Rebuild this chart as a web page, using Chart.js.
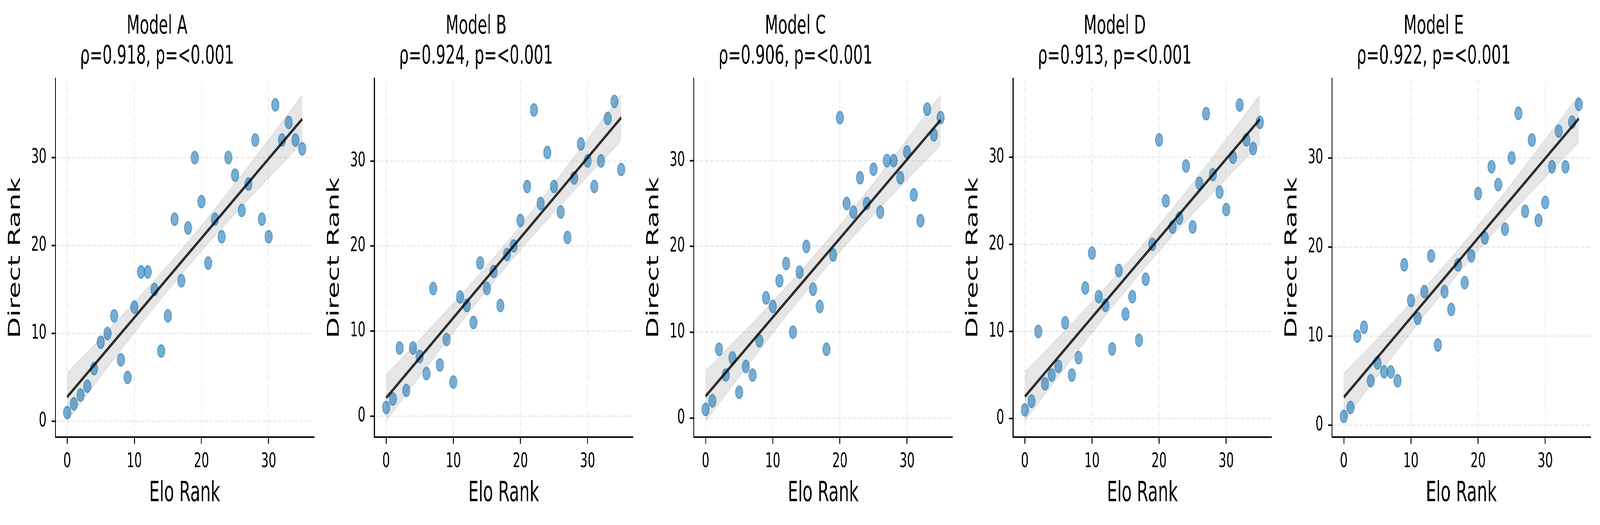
<!DOCTYPE html>
<html>
<head>
<meta charset="utf-8">
<script src="https://cdn.jsdelivr.net/npm/chart.js@4.4.0/dist/chart.umd.min.js"></script>
<style>
  html, body { margin: 0; background: #fff; overflow: hidden; }
  #stage { position: absolute; left: 0; top: 0; width: 6957px; height: 1344px; transform-origin: 0 0; }
  #stage canvas { position: absolute; top: 0; }
</style>
</head>
<body>
<div id="stage"></div>
<script>
// Elo rank on x, direct rank on y, one point per item
const eloRank = [0, 1, 2, 3, 4, 5, 6, 7, 8, 9, 10, 11, 12, 13, 14, 15, 16, 17,
                 18, 19, 20, 21, 22, 23, 24, 25, 26, 27, 28, 29, 30, 31, 32, 33, 34, 35];

const directA = [1, 2, 3, 4, 6, 9, 10, 12, 7, 5, 13, 17, 17, 15, 8, 12, 23, 16,
                 22, 30, 25, 18, 23, 21, 30, 28, 24, 27, 32, 23, 21, 36, 32, 34, 32, 31];
const directB = [1, 2, 8, 3, 8, 7, 5, 15, 6, 9, 4, 14, 13, 11, 18, 15, 17, 13,
                 19, 20, 23, 27, 36, 25, 31, 27, 24, 21, 28, 32, 30, 27, 30, 35, 37, 29];
const directC = [1, 2, 8, 5, 7, 3, 6, 5, 9, 14, 13, 16, 18, 10, 17, 20, 15, 13,
                 8, 19, 35, 25, 24, 28, 25, 29, 24, 30, 30, 28, 31, 26, 23, 36, 33, 35];
const directD = [1, 2, 10, 4, 5, 6, 11, 5, 7, 15, 19, 14, 13, 8, 17, 12, 14, 9,
                 16, 20, 32, 25, 22, 23, 29, 22, 27, 35, 28, 26, 24, 30, 36, 32, 31, 34];
const directE = [1, 2, 10, 11, 5, 7, 6, 6, 5, 18, 14, 12, 15, 19, 9, 15, 13, 18,
                 16, 19, 26, 21, 29, 27, 22, 30, 35, 24, 32, 23, 25, 29, 33, 29, 34, 36];

const modelNames = ['Model A', 'Model B', 'Model C', 'Model D', 'Model E'];
const rhoValues = ['0.918', '0.924', '0.906', '0.913', '0.922'];
const pValues = ['<0.001', '<0.001', '<0.001', '<0.001', '<0.001'];
const tickValues = [0, 10, 20, 30];

const allDirect = [directA, directB, directC, directD, directE];

// axis limits as matplotlib autoscaled them
const xRange = [-1.75, 36.75];
const yRanges = [[-1.79, 39.0], [-2.48, 39.7], [-2.23, 39.57], [-2.12, 39.04], [-1.32, 38.9]];

// layout, in pixels of the 6957 x 1344 figure
const figW = 6957;
const spineLefts = [241, 1628, 3017, 4405, 5792];
const plotW = 1124;
const yAxisW = 240;
const xAxisH = 225;
const rightPad = 30;
const FONT = 'DejaVu Sans';

// the window may be narrower than the figure: squeeze the stage to fit
const stage = document.getElementById('stage');
stage.style.transform = 'scale(' + (window.innerWidth / figW) + ', ' + (window.innerHeight / 1344) + ')';

// least squares fit with 95% band, evaluated at the data x values
function fitLine(xs, ys) {
    const n = xs.length;
    let mx = 0, my = 0;
    for (let i = 0; i < n; i++) { mx += xs[i]; my += ys[i]; }
    mx /= n; my /= n;
    let sxx = 0, sxy = 0;
    for (let i = 0; i < n; i++) {
        sxx += (xs[i] - mx) * (xs[i] - mx);
        sxy += (xs[i] - mx) * (ys[i] - my);
    }
    const b = sxy / sxx, a = my - b * mx;
    let sse = 0;
    for (let i = 0; i < n; i++) sse += Math.pow(ys[i] - (a + b * xs[i]), 2);
    const s = Math.sqrt(sse / (n - 2));
    const t = 2.032;
    const line = [], lo = [], hi = [];
    xs.forEach(function (x) {
        const yh = a + b * x;
        const h = t * s * Math.sqrt(1 / n + (x - mx) * (x - mx) / sxx);
        line.push({x: x, y: yh});
        lo.push({x: x, y: yh - h});
        hi.push({x: x, y: yh + h});
    });
    return {line: line, lo: lo, hi: hi};
}

function makePanel(idx) {
    const canvas = document.createElement('canvas');
    const w = yAxisW + plotW + rightPad;
    canvas.width = w;
    canvas.height = 1344;
    canvas.style.width = w + 'px';
    canvas.style.height = '1344px';
    canvas.style.left = (spineLefts[idx] - yAxisW) + 'px';
    stage.appendChild(canvas);

    const ys = allDirect[idx];
    const pts = eloRank.map(function (x, i) { return {x: x, y: ys[i]}; });
    const fit = fitLine(eloRank, ys);

    const gridOpts = {
        color: 'rgba(176,176,176,0.3)',
        lineWidth: 3,
        tickColor: '#000',
        tickWidth: 4,
        tickLength: 17,
        tickBorderDash: []
    };
    const borderOpts = {display: true, color: '#000', width: 4, dash: [16, 7]};

    new Chart(canvas, {
        type: 'scatter',
        data: {
            datasets: [{
                type: 'line',
                data: fit.lo,
                borderColor: 'rgba(128,128,128,0.15)',
                borderWidth: 3,
                pointRadius: 0,
                fill: false,
                order: 4
            }, {
                type: 'line',
                data: fit.hi,
                borderColor: 'rgba(128,128,128,0.15)',
                backgroundColor: 'rgba(128,128,128,0.2)',
                borderWidth: 3,
                pointRadius: 0,
                fill: '-1',
                order: 3
            }, {
                data: pts,
                backgroundColor: 'rgba(31,119,180,0.6)',
                borderColor: 'rgba(31,119,180,0.6)',
                borderWidth: 3,
                pointRadius: 16,
                order: 2
            }, {
                type: 'line',
                data: fit.line,
                borderColor: 'rgba(0,0,0,0.8)',
                borderWidth: 8,
                pointRadius: 0,
                fill: false,
                order: 1
            }]
        },
        options: {
            responsive: false,
            devicePixelRatio: 1,
            animation: false,
            layout: {padding: {left: 0, right: rightPad, top: 0, bottom: 0}},
            plugins: {
                legend: {display: false},
                tooltip: {enabled: false},
                title: {
                    display: true,
                    text: [modelNames[idx], 'ρ=' + rhoValues[idx] + ', p=' + pValues[idx]],
                    color: '#000',
                    font: {family: FONT, size: 66, weight: 'normal', lineHeight: 1.1667},
                    padding: {top: 30, bottom: 17}
                }
            },
            scales: {
                x: {
                    type: 'linear',
                    min: xRange[0],
                    max: xRange[1],
                    afterBuildTicks: function (axis) { axis.ticks = tickValues.map(function (v) { return {value: v}; }); },
                    afterFit: function (axis) { axis.height = xAxisH; },
                    grid: gridOpts,
                    border: borderOpts,
                    ticks: {color: '#000', font: {family: FONT, size: 52}, padding: 15, maxRotation: 0},
                    title: {display: true, text: 'Elo Rank', color: '#000',
                            font: {family: FONT, size: 71}, padding: {top: 0, bottom: 37}}
                },
                y: {
                    type: 'linear',
                    min: yRanges[idx][0],
                    max: yRanges[idx][1],
                    afterBuildTicks: function (axis) { axis.ticks = tickValues.map(function (v) { return {value: v}; }); },
                    afterFit: function (axis) { axis.width = yAxisW; },
                    grid: gridOpts,
                    border: borderOpts,
                    ticks: {color: '#000', font: {family: FONT, size: 52}, padding: 22},
                    title: {display: true, text: 'Direct Rank', color: '#000',
                            font: {family: FONT, size: 71}, padding: {top: 24, bottom: 0}}
                }
            }
        }
    });
}

for (let i = 0; i < modelNames.length; i++) makePanel(i);
</script>
</body>
</html>
